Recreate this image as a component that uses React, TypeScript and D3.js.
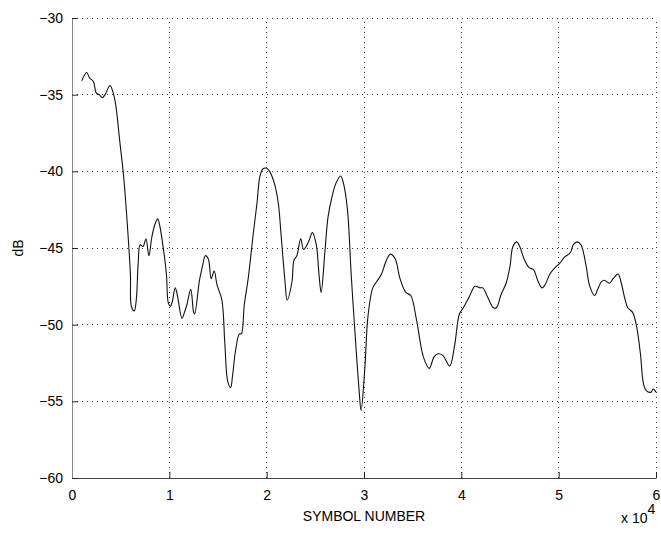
import React, { useRef, useEffect } from "react";
import * as d3 from "d3";

// symbol index and level in dB
const symbolNumber = [
  1000, 1500, 1800, 2200, 2500, 2800, 3100, 3400, 3900, 4200, 4500, 4900, 5300, 5600, 6000, 6100,
  6400, 6600, 6800, 7000, 7300, 7600, 7900, 8200, 8500, 8800, 9000, 9400, 9700, 9900, 10100,
  10300, 10600, 10800, 11300, 11500, 11800, 12200, 12500, 12600, 13100, 13400, 13700, 14000,
  14300, 14600, 14900, 15400, 15700, 16000, 16300, 16500, 16800, 17200, 17400, 17700, 18100,
  18600, 19000, 19300, 19600, 20000, 20300, 20800, 21200, 21500, 21900, 22100, 22600, 22800,
  23100, 23500, 23800, 24300, 24700, 25100, 25400, 25600, 26000, 26300, 26700, 27100, 27600,
  27900, 28300, 28700, 29200, 29500, 29700, 30100, 30400, 30900, 31300, 31800, 32300, 32700,
  33200, 33700, 34300, 34800, 35400, 36100, 36700, 37200, 37600, 38100, 38800, 39300, 39800,
  40200, 40800, 41400, 41900, 42200, 42700, 43300, 43600, 44100, 44600, 45000, 45300, 45700,
  46000, 46500, 47000, 47400, 47900, 48300, 48600, 49100, 49600, 50100, 50600, 51200, 51500,
  51900, 52300, 52800, 53200, 53700, 54000, 54400, 54700, 55200, 55600, 56100, 56400, 56800,
  57100, 57600, 58000, 58400, 58700, 59000, 59500, 59700, 60000
];
const levelDb = [
  -34.1, -33.55, -33.9, -34.15, -34.9, -35.0, -35.2, -35.0, -34.4, -34.8, -35.7, -38.0, -40.3,
  -42.7, -46.7, -48.8, -49.1, -48.4, -46.0, -44.8, -44.9, -44.4, -45.5, -44.3, -43.5, -43.1,
  -43.5, -45.1, -46.7, -48.6, -48.8, -48.5, -47.6, -48.0, -49.6, -49.3, -48.7, -47.7, -49.2,
  -49.3, -47.1, -46.2, -45.5, -45.7, -47.0, -46.5, -47.4, -48.4, -51.2, -53.7, -54.1, -53.3,
  -51.7, -50.6, -50.6, -48.7, -47.0, -44.2, -42.1, -40.35, -39.85, -39.8, -40.0, -40.8, -42.1,
  -44.3, -47.3, -48.4, -47.2, -45.8, -45.5, -44.4, -45.1, -44.6, -44.0, -44.8, -46.9, -47.9,
  -45.1, -43.0, -41.7, -40.8, -40.3, -40.8, -42.5, -46.9, -51.7, -54.3, -55.6, -52.7, -49.5,
  -47.6, -47.2, -46.7, -45.8, -45.4, -45.7, -47.0, -47.9, -48.1, -49.7, -52.1, -52.85, -52.1,
  -51.9, -52.0, -52.7, -51.4, -49.3, -48.9, -48.2, -47.5, -47.6, -47.6, -48.2, -48.9, -48.9,
  -48.0, -47.3, -46.2, -44.9, -44.6, -44.9, -45.8, -46.3, -46.4, -47.2, -47.6, -47.4, -46.7,
  -46.3, -46.0, -45.6, -45.3, -44.8, -44.6, -44.8, -46.1, -47.5, -48.1, -47.7, -47.2, -47.1,
  -47.3, -47.0, -46.7, -47.2, -48.3, -48.9, -49.2, -50.1, -51.9, -53.8, -54.3, -54.4, -54.2, -54.4
];
const xTicks = [0, 10000, 20000, 30000, 40000, 50000, 60000];
const yTicks = [-60, -55, -50, -45, -40, -35, -30];

const W = 661;
const H = 533;
const FONT = "'Liberation Sans', Arial, Helvetica, sans-serif";

const App = () => {
  const ref = useRef<SVGSVGElement>(null);

  useEffect(() => {
    const margin = { top: 18, right: 5, bottom: 55, left: 72 };
    const svg = d3.select(ref.current);
    svg.selectAll("*").remove();

    const x = d3.scaleLinear().domain([0, 60000]).range([margin.left, W - margin.right]);
    const y = d3.scaleLinear().domain([-60, -30]).range([H - margin.bottom, margin.top]);
    const [x0, x1] = x.range();
    const [y0, y1] = y.range();

    // dotted grid (also stands in for the top / right edges)
    const grid = svg.append("g").attr("stroke", "#333").attr("stroke-width", 1).attr("stroke-dasharray", "1,4");
    xTicks.slice(1).forEach((t) => {
      grid.append("line").attr("x1", x(t)).attr("x2", x(t)).attr("y1", y0).attr("y2", y1).attr("shape-rendering", "crispEdges");
    });
    yTicks.slice(1).forEach((t) => {
      grid.append("line").attr("x1", x0).attr("x2", x1).attr("y1", y(t)).attr("y2", y(t)).attr("shape-rendering", "crispEdges");
    });

    // axes
    const xAxis = d3.axisBottom(x).tickValues(xTicks).tickSizeInner(-6).tickSizeOuter(0).tickPadding(12)
      .tickFormat((d) => String(+d / 10000));
    const gx = svg.append("g").attr("transform", `translate(0,${y0})`).call(xAxis);
    gx.select(".domain").attr("stroke", "#444");
    gx.selectAll(".tick line").attr("stroke", "#222");
    gx.selectAll("text").attr("font-family", FONT).attr("font-size", 14).attr("fill", "#000");

    const yAxis = d3.axisLeft(y).tickValues(yTicks).tickSizeInner(-6).tickSizeOuter(0).tickPadding(9)
      .tickFormat((d) => String(d).replace("-", "\u2212"));
    const gy = svg.append("g").attr("transform", `translate(${x0},0)`).call(yAxis);
    gy.select(".domain").attr("stroke", "#888");
    gy.selectAll(".tick line").attr("stroke", "#222");
    gy.selectAll("text").attr("font-family", FONT).attr("font-size", 14).attr("fill", "#000");

    // the trace
    const pts = symbolNumber.map((s, i) => [s, levelDb[i]] as [number, number]);
    const line = d3.line<[number, number]>()
      .x((d) => x(d[0]))
      .y((d) => y(d[1]))
      .curve(d3.curveCatmullRom.alpha(0.5));
    svg.append("path").datum(pts).attr("d", line).attr("fill", "none").attr("stroke", "#111").attr("stroke-width", 1.1);

    // labels
    svg.append("text").attr("x", (x0 + x1) / 2).attr("y", 521).attr("text-anchor", "middle")
      .attr("font-family", FONT).attr("font-size", 14).text("SYMBOL NUMBER");
    svg.append("text").attr("transform", `translate(23,${(y0 + y1) / 2}) rotate(-90)`).attr("text-anchor", "middle")
      .attr("font-family", FONT).attr("font-size", 14).text("dB");
    const mult = svg.append("text").attr("x", 621).attr("y", 523).attr("font-family", FONT).attr("font-size", 14);
    mult.append("tspan").text("x 10");
    mult.append("tspan").attr("dy", -9).attr("font-size", 14).text("4");
  }, []);

  return (
    <svg ref={ref} width={W} height={H} style={{ position: "absolute", left: 0, top: 0, background: "#fff" }} />
  );
};

export default App;
